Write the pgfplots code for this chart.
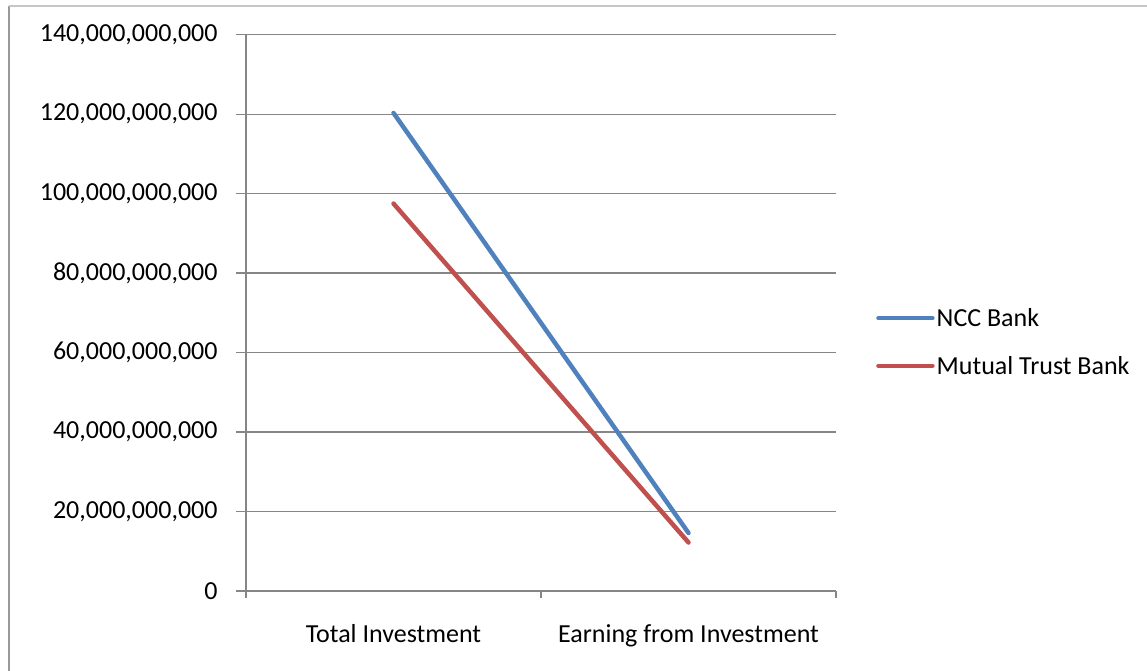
\documentclass[border=0pt]{standalone}
\usepackage{pgfplots}
\pgfplotsset{compat=1.18}
\usepackage{fontspec}
\setmainfont{Carlito}
\definecolor{ncc}{HTML}{4F81BD}
\definecolor{mtb}{HTML}{C0504D}
\definecolor{gridgray}{HTML}{868686}

\begin{document}
\begin{tikzpicture}[x=1pt,y=1pt]
\useasboundingbox (0,0) rectangle (1147,671);
% chart frame (only left and top edges visible)
\draw[color=gray!80, line width=2pt] (9.3,0) -- (9.3,665);
\draw[color=gray!45, line width=1.2pt] (9.3,665) -- (1147,665);

\begin{axis}[
    at={(246pt,80pt)}, anchor=south west,
    scale only axis,
    width=590pt, height=556.3pt,
    xmin=-0.5, xmax=1.5,
    ymin=0, ymax=140,
    axis x line=bottom, axis y line=left,
    axis line style={draw=gridgray, line width=1.3pt, -},
    xtick={0,1},
    xticklabels={Total Investment, Earning from Investment},
    major x tick style={draw=none},
    minor xtick={-0.5,0.5,1.5},
    minor x tick style={draw=gridgray, line width=1.3pt},
    minor tick length=7pt,
    ytick={0,20,...,140},
    yticklabels={0,{20,000,000,000},{40,000,000,000},{60,000,000,000},{80,000,000,000},{100,000,000,000},{120,000,000,000},{140,000,000,000}},
    y tick style={draw=gridgray, line width=1.3pt},
    major tick length=10pt,
    tick align=outside,
    ymajorgrids,
    grid style={draw=gridgray, line width=1.3pt},
    tick label style={font=\fontsize{26}{30}\selectfont, text=black},
    yticklabel style={xshift=-15pt},
    xticklabel style={yshift=-20pt},
    legend style={at={(1.0678,0.4476)}, anchor=west, draw=none, fill=none,
        font=\fontsize{26}{30}\selectfont, row sep=24pt, inner sep=0pt,
        /tikz/every even column/.append style={column sep=0pt}},
    legend cell align=left,
    legend image code/.code={\draw[#1, line cap=round] (0pt,0pt) -- (54pt,0pt);},
    clip=false,
]
\addplot[color=ncc, line width=4.5pt, line cap=round] coordinates {(0,120.3) (1,14.6)};
\addlegendentry{NCC Bank}
\addplot[color=mtb, line width=4.5pt, line cap=round] coordinates {(0,97.5) (1,12.2)};
\addlegendentry{Mutual Trust Bank}
\end{axis}
\end{tikzpicture}
\end{document}
